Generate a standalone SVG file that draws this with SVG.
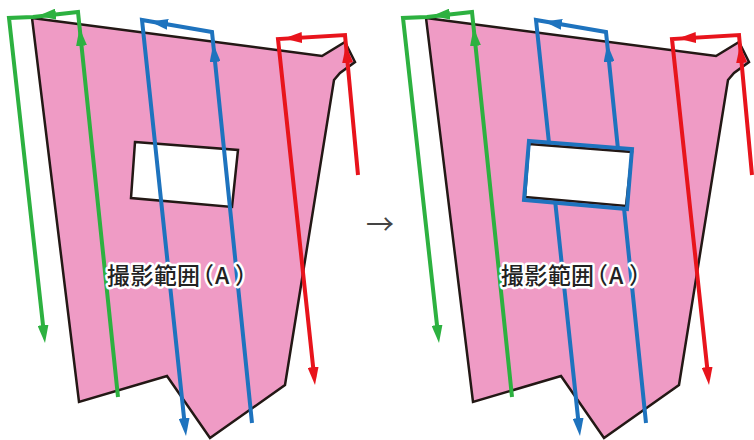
<svg xmlns="http://www.w3.org/2000/svg" width="754" height="440" viewBox="0 0 754 440">
<style>
.area{fill:#EF9BC5;stroke:#231815;stroke-width:2.5;stroke-linejoin:miter}
.hole{fill:#fff;stroke:#231815;stroke-width:2.5}
.g{fill:none;stroke:#2DB140;stroke-width:4;stroke-linejoin:miter}
.b{fill:none;stroke:#1E73BE;stroke-width:4;stroke-linejoin:miter}
.r{fill:none;stroke:#E8141C;stroke-width:4;stroke-linejoin:miter}
.ah{fill:none;stroke:none}
.lbl{font-family:"Noto Sans CJK JP","Noto Sans",sans-serif;font-size:23px;font-weight:500;fill:#222;stroke:#fff;stroke-width:5;stroke-linejoin:round;paint-order:stroke}
.arr{font-family:"Noto Sans CJK JP","DejaVu Sans",sans-serif;font-size:28px;fill:#444}
</style>
<defs>
<marker id="mg" viewBox="0 0 18 11" refX="18" refY="5.5" markerWidth="18" markerHeight="11" markerUnits="userSpaceOnUse" orient="auto"><path d="M0,0 L18,5.5 L0,11 z" fill="#2DB140"/></marker>
<marker id="mb" viewBox="0 0 18 11" refX="18" refY="5.5" markerWidth="18" markerHeight="11" markerUnits="userSpaceOnUse" orient="auto"><path d="M0,0 L18,5.5 L0,11 z" fill="#1E73BE"/></marker>
<marker id="mr" viewBox="0 0 18 11" refX="18" refY="5.5" markerWidth="18" markerHeight="11" markerUnits="userSpaceOnUse" orient="auto"><path d="M0,0 L18,5.5 L0,11 z" fill="#E8141C"/></marker>
</defs>

<g id="panel-before">
  <g id="area-a">
    <path class="area" d="M32,18 L322,56 L345,42 L355,62 L340,73 L334,80 L285,385 L210,438 L167,376 L79,402 Z"/>
    <path class="hole" d="M135,142 L238,150 L232,207 L131,198 Z"/>
  </g>
  <g id="connectors-before">
    <path class="g" d="M118,397 L78,12 L33,17 L9,18 L44.1,335"/>
    <path class="ah" d="M43,325 L45,343" marker-end="url(#mg)"/>
    <path class="ah" d="M56,14 L38,16" marker-end="url(#mg)"/>
    <path class="ah" d="M81.5,46 L79.6,28" marker-end="url(#mg)"/>
    <path class="b" d="M252,423 L212,32 L142,20 L185.1,428"/>
    <path class="ah" d="M184.1,418 L186,436" marker-end="url(#mb)"/>
    <path class="ah" d="M167.7,24.4 L150,21.4" marker-end="url(#mb)"/>
    <path class="ah" d="M215.1,62 L213.3,44" marker-end="url(#mb)"/>
    <path class="r" d="M358,175 L345,35 L278,39 L314.2,377"/>
    <path class="ah" d="M313.1,367 L315,385" marker-end="url(#mr)"/>
    <path class="ah" d="M302,37.5 L284,38.6" marker-end="url(#mr)"/>
    <path class="ah" d="M347.6,63 L346,45" marker-end="url(#mr)"/>
  </g>
  <text class="lbl" x="107 130.5 154 177 191 215 235" y="284">撮影範囲（A）</text>
</g>

<text id="transition" class="arr" x="366" y="235">→</text>

<g id="panel-after" transform="translate(394,0)">
  <g id="area-a-after">
    <path class="area" d="M32,18 L322,56 L345,42 L355,62 L340,73 L334,80 L285,385 L210,438 L167,376 L79,402 Z"/>
  </g>
  <g id="connectors-after">
    <path class="b" d="M252,423 L212,32 L142,20 L185.1,428"/>
    <path class="ah" d="M184.1,418 L186,436" marker-end="url(#mb)"/>
    <path class="ah" d="M167.7,24.4 L150,21.4" marker-end="url(#mb)"/>
    <path class="ah" d="M215.1,62 L213.3,44" marker-end="url(#mb)"/>
    <path class="hole" d="M135,144 L238,152 L232,206 L131,197 Z"/>
    <path class="b" d="M135,141 L238,149 L233,209 L130,200 Z"/>
    <path class="g" d="M118,397 L78,12 L33,17 L9,18 L44.1,335"/>
    <path class="ah" d="M43,325 L45,343" marker-end="url(#mg)"/>
    <path class="ah" d="M56,14 L38,16" marker-end="url(#mg)"/>
    <path class="ah" d="M81.5,46 L79.6,28" marker-end="url(#mg)"/>
    <path class="r" d="M358,175 L345,35 L278,39 L314.2,377"/>
    <path class="ah" d="M313.1,367 L315,385" marker-end="url(#mr)"/>
    <path class="ah" d="M302,37.5 L284,38.6" marker-end="url(#mr)"/>
    <path class="ah" d="M347.6,63 L346,45" marker-end="url(#mr)"/>
  </g>
  <text class="lbl" x="107 130.5 154 177 191 215 235" y="284">撮影範囲（A）</text>
</g>
</svg>
